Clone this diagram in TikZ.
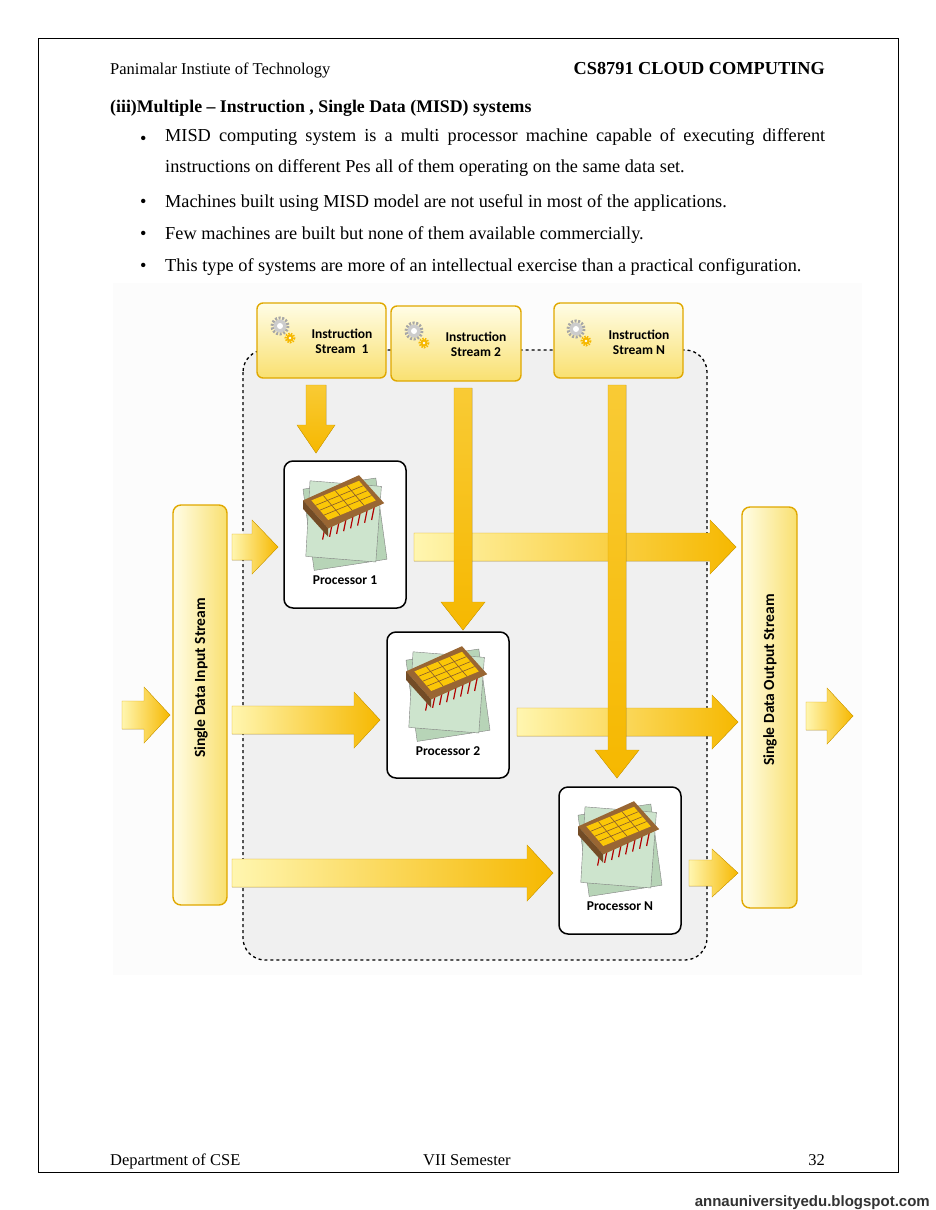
\documentclass[tikz,border=0pt]{standalone}
\usepackage{fontspec}
\setmainfont{Liberation Serif}
\newfontfamily\carl{Carlito}
\newfontfamily\lsans{Liberation Sans}
\definecolor{ylight}{HTML}{FFF6B0}
\definecolor{ydark}{HTML}{F6B800}
\definecolor{yedge}{HTML}{E0A800}
\definecolor{boxtop}{HTML}{FFFDE6}
\definecolor{boxbot}{HTML}{F9E070}
\usetikzlibrary{calc}
\newcommand\harr[5]{% x1 x2 y shafthalf headhalf
  \fill[left color=ylight,right color=ydark,draw=yedge,line width=0.4pt]
   (#1,#3-#4)--(#2-26,#3-#4)--(#2-26,#3-#5)--(#2,#3)--(#2-26,#3+#5)--(#2-26,#3+#4)--(#1,#3+#4)--cycle;}
\newcommand\varr[5]{% x y1 y2 shafthalf headhalf
  \fill[top color=ydark!70!ylight,bottom color=ydark,draw=yedge,line width=0.4pt]
   (#1-#4,#2)--(#1-#4,#3-28)--(#1-#5,#3-28)--(#1,#3)--(#1+#5,#3-28)--(#1+#4,#3-28)--(#1+#4,#2)--cycle;}
\newcommand\gear[2]{%
  \draw[gray!70,line width=3pt,dash pattern=on 2pt off 1.6pt] (#1,#2) circle (8);
  \fill[gray!40] (#1,#2) circle (6.5); \fill[white] (#1,#2) circle (3);
  \draw[ydark,line width=2pt,dash pattern=on 1.5pt off 1.2pt] (#1+10,#2+12) circle (4.5);
  \fill[ydark] (#1+10,#2+12) circle (3.5); \fill[white] (#1+10,#2+12) circle (1.3);}
\newcommand\chip[2]{%
 \begin{scope}[shift={(#1,#2)},scale=1.4]
  \fill[green!25!gray!45,draw=gray] (-30,-12) -- (22,-20) -- (30,38) -- (-22,46) -- cycle;
  \fill[green!30!gray!30,draw=gray] (-25,-18) -- (26,-14) -- (22,40) -- (-28,36) -- cycle;
  \foreach \i in {0,...,7}{\draw[red!70!black,line width=1.2pt] (-14+\i*5,14-\i*2) -- ++(-2,10);}
  \fill[brown!80!black] (-30,-4) -- (10,-22) -- (28,-2) -- (-12,16) -- cycle;
  \fill[brown!60!black] (-30,-4) -- (-12,16) -- (-12,22) -- (-30,2) -- cycle;
  \fill[yellow!60!orange] (-24,-4) -- (10,-18) -- (22,-4) -- (-12,10) -- cycle;
  \foreach \t in {0.25,0.5,0.75}{
    \draw[brown!70!black,line width=0.6pt] ($(-24,-4)!\t!(10,-18)$) -- ($(-12,10)!\t!(22,-4)$);
    \draw[brown!70!black,line width=0.6pt] ($(-24,-4)!\t!(-12,10)$) -- ($(10,-18)!\t!(22,-4)$);}
 \end{scope}}
\tikzset{
 ibox/.style={draw=yedge,line width=1.4pt,rounded corners=6,top color=boxtop,bottom color=boxbot},
 pbox/.style={draw=black,line width=1.5pt,rounded corners=9,fill=white},
 sbar/.style={draw=yedge,line width=1.4pt,rounded corners=8,left color=boxtop,right color=boxbot},
 dtxt/.style={font=\carl\bfseries\fontsize{13.5}{15}\selectfont,align=center},
 body/.style={font=\fontsize{18.3}{20}\selectfont,anchor=base west,inner sep=0},
 small/.style={font=\fontsize{16.5}{18}\selectfont,anchor=base west,inner sep=0}
}
\begin{document}
\begin{tikzpicture}[x=1pt,y=-1pt]
\useasboundingbox (0,0) rectangle (935,1210);
\fill[white] (0,0) rectangle (935,1210);
\draw[line width=0.8pt] (38,38) rectangle (898,1172);
\node[small] (hl) at (110,74) {Panimalar Instiute of Technology};
\node[body,anchor=base east,font=\bfseries\fontsize{18.3}{20}\selectfont] (hr) at (825,74) {CS8791 CLOUD COMPUTING};
\node[body,font=\bfseries\fontsize{17.8}{20}\selectfont] (h) at (110,112) {(iii)Multiple -- Instruction , Single Data (MISD) systems};
\foreach \y in {144,207,239,271} \node[body] at (140,\y) {•};
\node[anchor=north west,inner sep=0,text width=660,align=justify,font=\fontsize{18.3}{31}\selectfont] (b1) at (165,128)
 {MISD computing system is a multi processor machine capable of executing different\linebreak instructions on different Pes all of them operating on the same data set.};
\node[body] (b2) at (165,207) {Machines built using MISD model are not useful in most of the applications.};
\node[body] (b3) at (165,239) {Few machines are built but none of them available commercially.};
\node[body] (b4) at (165,271) {This type of systems are more of an intellectual exercise than a practical configuration.};
% figure
\fill[gray!2] (113,283) rectangle (862,975);
\draw[dashed,line width=1.3pt,rounded corners=22,fill=gray!12] (243,350) rectangle (707,960);
% horizontal arrows
\harr{122}{170}{715}{14}{28}
\harr{232}{278}{547}{13}{27}
\harr{232}{380}{720}{14}{28}
\harr{232}{553}{873}{14}{28}
\harr{414}{736}{547}{14}{27}
\harr{517}{738}{722}{14}{27}
\harr{689}{738}{873}{13}{24}
\harr{806}{853}{716}{14}{28}
% vertical arrows
\varr{316}{385}{453}{10}{19}
\varr{463}{388}{630}{9}{22}
\varr{617}{385}{778}{9}{22}
% instruction boxes
\node[ibox,minimum width=129,minimum height=75] (i1) at (321.5,340.5) {};
\node[ibox,minimum width=130,minimum height=75] (i2) at (456,343.5) {};
\node[ibox,minimum width=129,minimum height=75] (iN) at (618.5,340.5) {};
\gear{280}{326}\gear{414}{331}\gear{576}{329}
\node[dtxt] at (342,341) {Instruction\\Stream\ \ 1};
\node[dtxt] at (476,344) {Instruction\\Stream 2};
\node[dtxt] at (639,342) {Instruction\\Stream N};
% processors
\node[pbox,minimum width=122,minimum height=147] (p1) at (345,534.5) {};
\node[pbox,minimum width=122,minimum height=146] (p2) at (448,705) {};
\node[pbox,minimum width=122,minimum height=147] (pN) at (620,860.5) {};
\chip{345}{506}\chip{448}{677}\chip{620}{832}
\node[dtxt] at (345,580) {Processor 1};
\node[dtxt] at (448,751) {Processor 2};
\node[dtxt] at (620,906) {Processor N};
% stream bars
\node[sbar,minimum width=54,minimum height=400] (in) at (200,705) {};
\node[sbar,minimum width=55,minimum height=401] (out) at (769.5,707.5) {};
\node[dtxt,rotate=90,font=\carl\bfseries\fontsize{15.5}{17}\selectfont] at (201,678) {Single Data Input Stream};
\node[dtxt,rotate=90,font=\carl\bfseries\fontsize{15.5}{17}\selectfont] at (770,680) {Single Data Output Stream};
% footer
\node[small] (f1) at (110,1165) {Department of CSE};
\node[small] (f2) at (423,1165) {VII Semester};
\node[small,anchor=base east] (f3) at (825,1165) {32};
\node[anchor=base east,inner sep=0,font=\lsans\bfseries\fontsize{15}{17}\selectfont,gray!40!black] (w) at (930,1206) {annauniversityedu.blogspot.com};
\end{tikzpicture}
\end{document}
